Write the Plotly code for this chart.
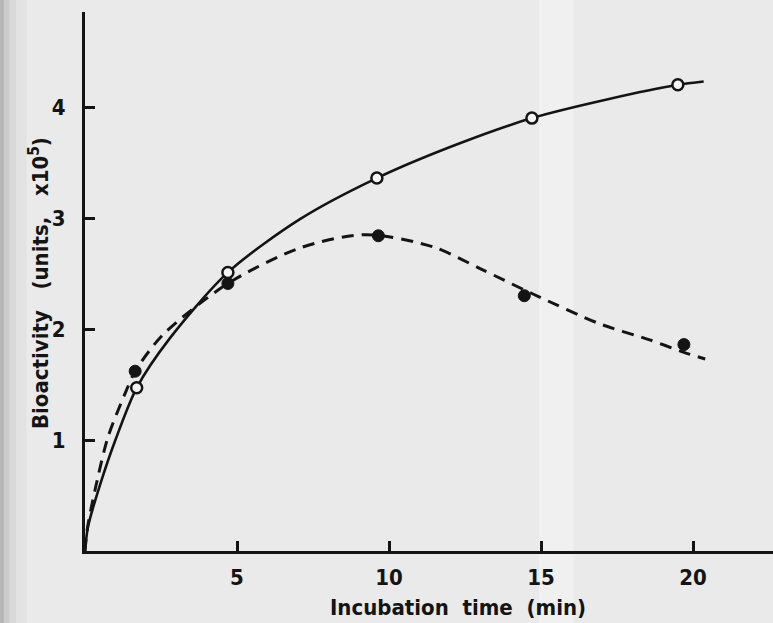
import plotly.graph_objects as go

# Measured points
time_open = [1.7, 4.7, 9.6, 14.7, 19.5]
bio_open = [1.47, 2.51, 3.36, 3.90, 4.20]
time_filled = [1.65, 4.7, 9.65, 14.45, 19.7]
bio_filled = [1.62, 2.41, 2.84, 2.30, 1.86]

# Points
solid_x = [0.0, 0.1, 0.5, 1.0, 1.7, 2.8, 4.7, 7.07, 9.6, 12.2, 14.7, 17.2, 19.5, 20.35]
solid_y = [0.0, 0.22, 0.60, 1.00, 1.47, 1.92, 2.51, 2.99, 3.36, 3.66, 3.90, 4.07, 4.20, 4.23]
dash_x = [0.0, 0.07, 0.33, 0.76, 1.32, 1.65, 2.57, 4.7, 7.07, 9.2, 11.45, 13.1, 14.7, 16.9, 18.6, 19.7, 20.4]
dash_y = [0.0, 0.19, 0.55, 1.03, 1.42, 1.62, 1.95, 2.41, 2.73, 2.85, 2.74, 2.53, 2.32, 2.05, 1.90, 1.79, 1.73]

x_ticks = [5, 10, 15, 20]
y_ticks = [1, 2, 3, 4]

ink = "#141414"
font = "DejaVu Sans Condensed"

fig = go.Figure()
fig.add_trace(go.Scatter(x=solid_x, y=solid_y, mode="lines",
                         line=dict(color=ink, width=2.6, shape="spline", smoothing=0.8),
                         hoverinfo="skip"))
fig.add_trace(go.Scatter(x=dash_x, y=dash_y, mode="lines",
                         line=dict(color=ink, width=3, dash="12px,8px", shape="spline", smoothing=0.8),
                         hoverinfo="skip"))
fig.add_trace(go.Scatter(x=time_open, y=bio_open, mode="markers",
                         marker=dict(symbol="circle", size=11, color="#f4f4f4",
                                     line=dict(color=ink, width=2.5))))
fig.add_trace(go.Scatter(x=time_filled, y=bio_filled, mode="markers",
                         marker=dict(symbol="circle", size=12, color=ink,
                                     line=dict(color=ink, width=1))))

# left edge shading of scan
shades = [(-0.124, -0.118, 0.22), (-0.118, -0.110, 0.13), (-0.110, -0.100, 0.07), (-0.100, -0.085, 0.03)]
shapes = []
for x0, x1, op in shades:
    shapes.append(dict(type="rect", xref="paper", yref="paper", x0=x0, x1=x1, y0=-0.2, y1=1.1,
                       fillcolor="black", opacity=op, line=dict(width=0), layer="below"))
shapes.append(dict(type="rect", xref="paper", yref="paper", x0=0.66, x1=0.71, y0=-0.2, y1=1.1,
                   fillcolor="white", opacity=0.3, line=dict(width=0), layer="below"))

tf = dict(size=22, family=font, color=ink, weight="bold")

fig.update_layout(
    width=773, height=623,
    margin=dict(l=85, r=0, t=12, b=72),
    paper_bgcolor="#eaeaea", plot_bgcolor="rgba(0,0,0,0)",
    showlegend=False,
    shapes=shapes,
    font=dict(family=font, color=ink, size=22),
    xaxis=dict(range=[0, 22.63], tickvals=x_ticks, ticktext=[str(v) for v in x_ticks],
               ticks="inside", ticklen=10, tickwidth=2.5, tickcolor=ink,
               showline=True, linewidth=3, linecolor=ink, showgrid=False, zeroline=False,
               tickfont=tf, ticklabelstandoff=5),
    yaxis=dict(range=[0, 4.856], tickvals=y_ticks, ticktext=[str(v) for v in y_ticks],
               ticks="inside", ticklen=10, tickwidth=2.5, tickcolor=ink,
               showline=True, linewidth=3, linecolor=ink, showgrid=False, zeroline=False,
               tickfont=tf, ticklabelstandoff=12),
    annotations=[
        dict(text="Incubation  time  (min)", xref="paper", yref="paper", x=0.542, y=-0.104,
             showarrow=False, font=tf, xanchor="center", yanchor="middle"),
        dict(text="Bioactivity   (units,   x10<sup>5</sup>)", xref="paper", yref="paper", x=-0.067, y=0.497,
             showarrow=False, textangle=-90, font=tf,
             xanchor="center", yanchor="middle"),
    ],
)

fig.write_html("out.html")
